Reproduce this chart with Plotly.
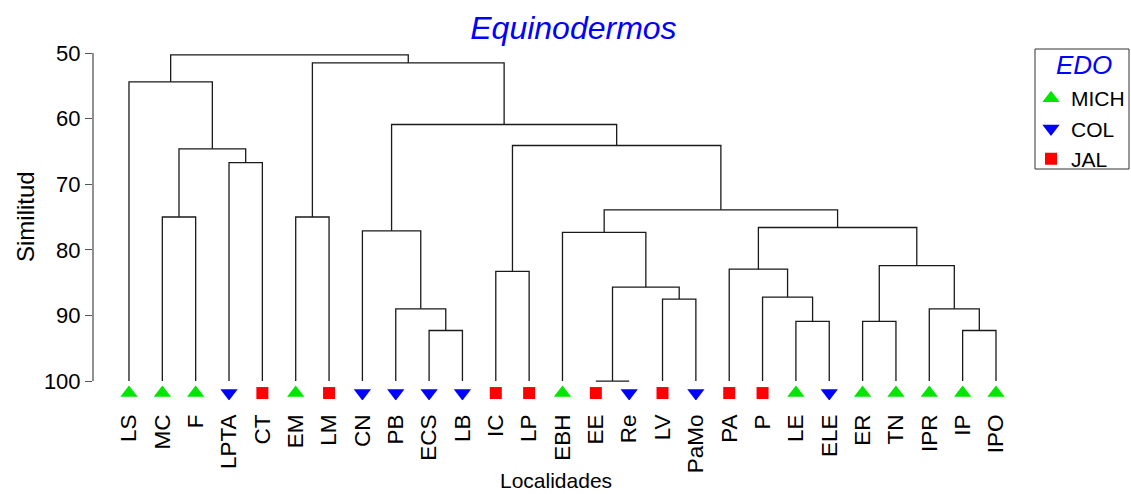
import plotly.graph_objects as go

# ---------------- data ----------------
leaves = ["LS", "MC", "F", "LPTA", "CT", "EM", "LM", "CN", "PB", "ECS", "LB", "IC", "LP",
          "EBH", "EE", "Re", "LV", "PaMo", "PA", "P", "LE", "ELE", "ER", "TN", "IPR", "IP", "IPO"]
states = ["MICH", "MICH", "MICH", "COL", "JAL", "MICH", "JAL", "COL", "COL", "COL", "COL", "JAL", "JAL",
          "MICH", "JAL", "COL", "JAL", "COL", "JAL", "JAL", "MICH", "COL", "MICH", "MICH", "MICH", "MICH", "MICH"]

# merges: (id, left child, right child, similarity)
merges = [
    ("A", "MC", "F", 75.0),
    ("B", "LPTA", "CT", 66.7),
    ("C", "A", "B", 64.6),
    ("D", "LS", "C", 54.4),
    ("E", "EM", "LM", 75.0),
    ("F1", "ECS", "LB", 92.3),
    ("G", "PB", "F1", 89.0),
    ("H", "CN", "G", 77.1),
    ("I", "IC", "LP", 83.3),
    ("J", "EE", "Re", 100.0),
    ("K", "LV", "PaMo", 87.5),
    ("L", "J", "K", 85.7),
    ("M", "EBH", "L", 77.35),
    ("N", "LE", "ELE", 90.9),
    ("O", "P", "N", 87.2),
    ("P2", "PA", "O", 82.95),
    ("Q", "ER", "TN", 90.9),
    ("R", "IP", "IPO", 92.3),
    ("S", "IPR", "R", 89.0),
    ("T", "Q", "S", 82.4),
    ("U", "P2", "T", 76.6),
    ("V", "M", "U", 73.9),
    ("W", "I", "V", 64.1),
    ("X", "H", "W", 60.9),
    ("Y", "E", "X", 51.5),
    ("Z", "D", "Y", 50.3),
]

y_ticks = [50, 60, 70, 80, 90, 100]

state_order = ["MICH", "COL", "JAL"]
state_colors = {"MICH": "#00e600", "COL": "#0000ff", "JAL": "#ff0000"}
state_symbols = {"MICH": "triangle-up", "COL": "triangle-down", "JAL": "square"}
state_sizes = {"MICH": 15, "COL": 15, "JAL": 12}

LEAF_LEVEL = 100.0
MARKER_LEVEL = 101.83
Y_BOTTOM = 102.89

# ---------------- layout geometry (pixels) ----------------
W, H = 1131, 494
ML, MR, MT, MB = 93, 100, 53, 94
PW, PH = W - ML - MR, H - MT - MB


def px_x(p):
    return (p - ML) / PW


def px_y(p):
    return (H - MB - p) / PH


# ---------------- build dendrogram segments ----------------
pos = {name: (float(i), LEAF_LEVEL) for i, name in enumerate(leaves)}
xs, ys = [], []
for mid, l, r, h in merges:
    xl, hl = pos[l]
    xr, hr = pos[r]
    xs += [xl, xl, xr, xr, None]
    ys += [hl, h, h, hr, None]
    pos[mid] = ((xl + xr) / 2.0, h)

fig = go.Figure()
fig.add_trace(go.Scatter(x=xs, y=ys, mode="lines",
                         line=dict(color="#1a1a1a", width=1.3),
                         hoverinfo="skip", showlegend=False))

for st in state_order:
    idx = [i for i, s in enumerate(states) if s == st]
    fig.add_trace(go.Scatter(
        x=idx, y=[MARKER_LEVEL] * len(idx), mode="markers", name=st,
        marker=dict(symbol=state_symbols[st], color=state_colors[st],
                    size=state_sizes[st], line=dict(width=0)),
        text=[leaves[i] for i in idx]))

# y-axis line only spanning the tick range
fig.add_shape(type="line", xref="paper", yref="y", x0=0, x1=0,
              y0=min(y_ticks), y1=max(y_ticks),
              line=dict(color="#555555", width=1.3))

# legend frame
fig.add_shape(type="rect", xref="paper", yref="paper",
              x0=px_x(1035), x1=px_x(1129), y0=px_y(169), y1=px_y(49),
              line=dict(color="#333333", width=1), fillcolor="rgba(0,0,0,0)", layer="below")

FONT = "Liberation Sans, Arial, sans-serif"
fig.add_annotation(text="EDO", xref="paper", yref="paper", x=px_x(1084), y=px_y(65),
                   xanchor="center", yanchor="middle", showarrow=False,
                   font=dict(family=FONT, size=26, color="#0000ff", style="italic"))
fig.add_annotation(text="Similitud", xref="paper", yref="y", x=0, xshift=-68, y=75,
                   xanchor="center", yanchor="middle", textangle=-90, showarrow=False,
                   font=dict(family=FONT, size=24, color="black"))
fig.add_annotation(text="Localidades", xref="paper", yref="paper", x=px_x(556), y=px_y(481),
                   xanchor="center", yanchor="middle", showarrow=False, borderpad=0,
                   font=dict(family=FONT, size=21, color="black"))

fig.update_layout(
    width=W, height=H,
    margin=dict(l=ML, r=MR, t=MT, b=MB, autoexpand=False),
    plot_bgcolor="white", paper_bgcolor="white",
    font=dict(family=FONT, size=21, color="black"),
    title=dict(text="Equinodermos", x=0.507, xanchor="center", y=0.943, yanchor="middle",
               font=dict(family=FONT, size=32, color="#0000ff", style="italic")),
    xaxis=dict(range=[-1.079, 27.05], tickmode="array", tickvals=list(range(len(leaves))),
               ticktext=leaves, tickangle=-90, showgrid=False, zeroline=False,
               showline=False, ticks="", ticklabelstandoff=9,
               tickfont=dict(size=22.5)),
    yaxis=dict(range=[Y_BOTTOM, 50], tickvals=y_ticks, showgrid=False,
               zeroline=False, showline=False,
               ticks="outside", ticklen=7, tickcolor="#555555", tickwidth=1.3,
               tickfont=dict(size=22)),
    legend=dict(x=px_x(1031), y=px_y(78), xanchor="left", yanchor="top",
                borderwidth=0, bgcolor="rgba(0,0,0,0)",
                font=dict(size=21), itemwidth=30, tracegroupgap=0),
)

fig.write_html("out.html")
